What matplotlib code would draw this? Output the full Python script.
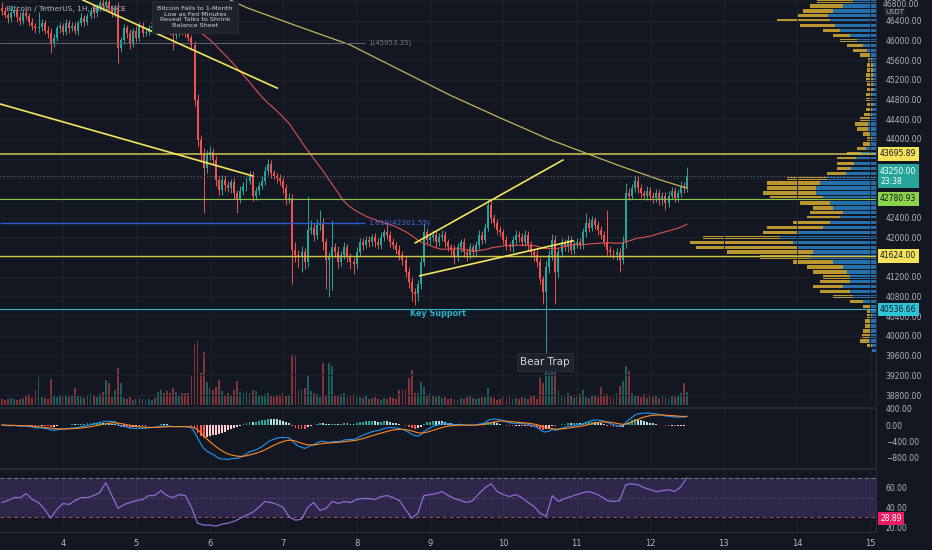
import matplotlib.pyplot as plt
import numpy as np
import pandas as pd

# BTC/USDT 1H candles (Binance). First candle: day 3 04:00, last: day 12 12:00
first_hour = 3 * 24 + 4
first_open = 46650
close = [
    46600, 46520, 46450, 46560, 46620, 46480, 46400, 46550, 46500, 46380, 46300, 46250,
    46280, 46350, 46200, 46150, 45950, 46050, 46250, 46300, 46180, 46350, 46250, 46300,
    46200, 46350, 46450, 46380, 46500, 46600, 46550, 46680, 46750, 46700, 46780, 46650,
    46550, 46650, 45850, 46000, 46250, 46150, 45950, 46200, 46050, 46300, 46150, 46180,
    46250, 46300, 46200, 46350, 46400, 46300, 46250, 46200, 46100, 46150, 46250, 46200,
    46150, 46050, 45900, 44790, 43980, 43670, 43410, 43670, 43730, 43570, 43170, 42960,
    43170, 43060, 43000, 43120, 42900, 42780, 42950, 43050, 43150, 43250, 42850, 42950,
    43050, 43150, 43350, 43500, 43300, 43250, 43200, 43150, 43000, 42780, 42800, 41750,
    41650, 41600, 41700, 41500, 42150, 42200, 42050, 42250, 42300, 41900, 41550, 41600,
    41800, 41700, 41500, 41650, 41800, 41600, 41500, 41450, 41700, 41900, 41850, 41950,
    41900, 42000, 41900, 41850, 42000, 42100, 42050, 41900, 41850, 41750, 41650, 41550,
    41300, 41100, 40900, 40850, 41050, 41500, 42100, 41950, 42000, 42050, 41900, 42000,
    42050, 41900, 41800, 41750, 41600, 41800, 41900, 41700, 41650, 41800, 41700, 41850,
    42050, 41950, 42200, 42650, 42400, 42300, 42150, 42100, 41950, 41850, 41800, 41950,
    42050, 42000, 41900, 42050, 41850, 41700, 41650, 41500, 41150, 40900, 41400, 41650,
    41950, 41300, 41700, 41900, 41800, 41950, 41750, 41850, 41900, 41850, 42100, 42300,
    42200, 42350, 42250, 42150, 42050, 41900, 41750, 41700, 41650, 41700, 41550, 41900,
    42900, 42850, 43000, 43150, 43000, 42900, 42850, 42950, 42850, 42800, 42900, 42750,
    42850, 42700, 42850, 42950, 42800, 42900, 43050, 43000, 43250,
]
# wick length above / below the candle body (USD)
wick_hi = [
    120, 80, 60, 150, 100, 70, 90, 60, 80, 50, 70, 60,
    300, 80, 60, 90, 100, 70, 60, 80, 50, 90, 60, 70,
    80, 60, 100, 70, 60, 80, 110, 60, 70, 90, 50, 80,
    70, 90, 120, 60, 80, 70, 90, 60, 100, 70, 80, 60,
    70, 60, 80, 90, 60, 70, 80, 60, 70, 90, 60, 80,
    70, 90, 60, 80, 120, 90, 150, 100, 120, 80, 90, 70,
    100, 80, 90, 70, 80, 60, 90, 80, 70, 100, 90, 80,
    70, 90, 100, 100, 80, 70, 60, 80, 70, 90, 110, 80,
    150, 90, 120, 80, 700, 150, 100, 120, 250, 90, 80, 100,
    550, 90, 120, 80, 100, 70, 90, 80, 100, 80, 90, 70,
    80, 70, 90, 80, 100, 80, 200, 70, 80, 60, 90, 70,
    80, 100, 90, 70, 80, 120, 200, 100, 80, 90, 70, 80,
    90, 80, 70, 60, 90, 80, 70, 80, 60, 90, 70, 80,
    90, 80, 100, 130, 120, 80, 70, 90, 80, 70, 60, 80,
    90, 70, 80, 90, 70, 80, 60, 90, 80, 70, 120, 100,
    120, 100, 90, 80, 70, 90, 80, 70, 90, 80, 100, 200,
    90, 80, 70, 90, 80, 70, 650, 80, 70, 90, 80, 120,
    200, 100, 80, 100, 90, 80, 70, 90, 80, 70, 90, 80,
    70, 80, 90, 80, 70, 90, 100, 80, 180,
]
wick_lo = [
    80, 60, 90, 70, 60, 100, 80, 70, 60, 90, 80, 100,
    90, 80, 70, 100, 200, 80, 60, 90, 70, 80, 90, 60,
    70, 90, 60, 80, 70, 60, 90, 70, 80, 60, 90, 70,
    80, 70, 310, 90, 80, 100, 120, 80, 90, 70, 80, 60,
    70, 80, 60, 90, 70, 80, 60, 90, 300, 80, 70, 90,
    80, 70, 90, 120, 150, 130, 910, 100, 90, 110, 120, 100,
    90, 110, 80, 100, 120, 280, 90, 80, 100, 70, 120, 90,
    80, 70, 90, 80, 100, 70, 90, 80, 100, 120, 90, 700,
    150, 200, 300, 150, 100, 90, 120, 80, 100, 150, 600, 760,
    670, 100, 120, 90, 80, 100, 150, 200, 90, 80, 100, 70,
    90, 80, 100, 90, 80, 70, 90, 100, 80, 90, 100, 120,
    100, 120, 200, 220, 150, 100, 90, 80, 100, 70, 90, 80,
    70, 90, 80, 100, 150, 80, 90, 100, 120, 80, 90, 70,
    80, 90, 70, 80, 100, 90, 80, 70, 90, 100, 80, 90,
    80, 90, 70, 80, 100, 90, 120, 100, 100, 250, 1280, 120,
    100, 650, 120, 90, 80, 100, 90, 80, 70, 90, 80, 100,
    90, 80, 70, 100, 90, 80, 100, 90, 80, 100, 250, 100,
    120, 90, 80, 70, 100, 90, 80, 100, 90, 110, 80, 100,
    90, 150, 80, 70, 90, 80, 70, 90, 80,
]
# volume, hundreds of BTC
volume = [
    6, 5, 6, 7, 6, 5, 6, 7, 10, 11, 7, 15,
    28, 8, 7, 6, 26, 9, 8, 9, 10, 9, 8, 9,
    17, 9, 8, 7, 10, 12, 9, 8, 11, 13, 25, 22,
    8, 15, 37, 22, 7, 6, 8, 5, 6, 7, 6, 5,
    6, 5, 7, 13, 15, 12, 14, 12, 17, 13, 10, 12,
    12, 12, 30, 60, 64, 32, 53, 23, 17, 15, 18, 25,
    14, 10, 12, 9, 15, 24, 13, 12, 14, 12, 15, 14,
    10, 9, 11, 12, 9, 8, 10, 9, 12, 9, 10, 50,
    50, 15, 16, 17, 30, 14, 12, 11, 8, 42, 10, 42,
    39, 10, 9, 11, 12, 8, 9, 11, 10, 8, 7, 9,
    6, 7, 8, 6, 5, 7, 6, 8, 7, 6, 15, 15,
    15, 27, 35, 12, 12, 23, 18, 10, 12, 9, 8, 10,
    7, 8, 6, 7, 6, 5, 7, 6, 8, 10, 7, 6,
    7, 8, 8, 17, 8, 7, 5, 6, 8, 7, 9, 6,
    7, 6, 8, 7, 6, 9, 10, 6, 27, 22, 38, 32,
    38, 38, 15, 10, 8, 12, 9, 7, 9, 11, 15, 8,
    7, 9, 10, 8, 18, 9, 11, 8, 7, 12, 19, 24,
    39, 34, 12, 10, 9, 8, 11, 7, 9, 8, 10, 7,
    9, 8, 7, 10, 8, 9, 12, 22, 13,
]

# RSI(14), every 2 hours from the first candle
rsi = [
    45, 47, 50, 50, 54, 48, 45, 38, 29, 38, 44, 43,
    47, 50, 50, 52, 55, 65, 52, 39, 43, 45, 47, 48,
    52, 52, 57, 52, 50, 53, 52, 40, 24, 22, 22, 21,
    23, 24, 26, 29, 32, 35, 40, 46, 45, 43, 40, 30,
    27, 28, 40, 45, 37, 39, 46, 44, 46, 45, 48, 49,
    49, 48, 51, 52, 50, 47, 38, 29, 34, 52, 53, 54,
    56, 52, 49, 47, 45, 47, 54, 60, 64, 56, 53, 51,
    53, 50, 45, 41, 34, 31, 52, 46, 49, 51, 53, 55,
    56, 54, 51, 47, 46, 47, 63, 64, 63, 60, 58, 56,
    57, 58, 56, 61, 70,
]
rsi_last_tag = 28.89

# 200 MA (time in days, price)
ma200_t = [6.28, 6.51, 7.23, 7.91, 8.59, 9.27, 9.95, 10.64, 11.00, 11.59, 12.13, 12.50]
ma200 = [46820, 46660, 46270, 45910, 45400, 44890, 44430, 43980, 43780, 43450, 43170, 43000]

# hand-drawn trend lines: (t0, p0, t1, p1)
trend_lines = [
    (4.27, 46820, 6.92, 45030),
    (3.14, 44710, 6.58, 43250),
    (8.80, 41890, 10.81, 43570),
    (8.86, 41220, 10.95, 41930),
]

level_fib1 = 45953.35
level_fib1618 = 42301.55
level_res = 43695.89
level_green = 42780.93
level_yellow = 41624.00
level_support = 40536.66
last_price = 43250.00

# visible range volume profile, 100 USD rows from 46800 down to 39700
vp_total = [
    59, 66, 73, 79, 99, 76, 53, 43, 36, 29, 23, 16,
    8, 9, 9, 10, 10, 9, 9, 10, 10, 9, 10, 12,
    16, 21, 19, 13, 9, 13, 19, 29, 39, 39, 39, 49,
    89, 109, 109, 113, 106, 76, 63, 66, 69, 83, 109, 113,
    173, 186, 180, 149, 116, 83, 69, 63, 53, 56, 63, 56,
    43, 26, 13, 9, 9, 11, 11, 13, 14, 16, 9, 4,
]
vp_up = [
    23, 33, 43, 48, 46, 41, 36, 26, 19, 13, 9, 6,
    4, 3, 3, 3, 3, 3, 3, 4, 4, 3, 4, 4,
    5, 8, 8, 6, 4, 6, 10, 15, 20, 22, 25, 30,
    49, 56, 60, 60, 53, 46, 43, 33, 36, 46, 53, 79,
    96, 83, 79, 63, 66, 43, 33, 29, 26, 26, 33, 26,
    23, 13, 6, 5, 4, 5, 5, 6, 6, 7, 4, 4,
]
vp_price = np.arange(46800, 39600, -100)

price_ticks = [46400, 46000, 45600, 45200, 44800, 44400, 44000,
               42400, 42000, 41200, 40800, 40400, 40000, 39600, 39200, 38800]
day_ticks = list(range(4, 16))

BG = '#131722'
GRID = '#1e222d'
TXT = '#b2b5be'
UP = '#26a69a'
DN = '#ef5350'

t = (first_hour + np.arange(len(close))) / 24
c = np.array(close, float)
o = np.r_[first_open, c[:-1]]
hi = np.maximum(o, c) + np.array(wick_hi)
lo = np.minimum(o, c) - np.array(wick_lo)
col = np.where(c >= o, UP, DN)

s = pd.Series(c)
sma50 = s.rolling(50).mean()
macd = s.ewm(span=12, adjust=False).mean() - s.ewm(span=26, adjust=False).mean()
signal = macd.ewm(span=9, adjust=False).mean()
hist = (macd - signal).values

W, H = 932, 550


def rect(top, bottom):
    return [0, 1 - bottom / H, 876 / W, (bottom - top) / H]


fig = plt.figure(figsize=(W / 100, H / 100), dpi=100, facecolor=BG)
ax_vp = fig.add_axes(rect(0, 405))
ax = fig.add_axes(rect(0, 405), sharey=ax_vp)
ax_v = fig.add_axes(rect(0, 405), sharex=ax)
ax_m = fig.add_axes(rect(408, 467), sharex=ax)
ax_r = fig.add_axes(rect(469, 532), sharex=ax)
ax_vp.set_zorder(1)
ax_v.set_zorder(2)
ax.set_zorder(3)
ax_vp.set_facecolor(BG)
ax.patch.set_visible(False)
ax_v.patch.set_visible(False)

X0, X1 = 3.1417, 15.0763
ax.set_xlim(X0, X1)
ax.set_ylim(38597, 46820)

for a in (ax, ax_m, ax_r, ax_v, ax_vp):
    for sp in a.spines.values():
        sp.set_visible(False)
for a in (ax, ax_m, ax_r):
    a.spines['right'].set_visible(True)
    a.spines['right'].set_color('#2a2e39')
    for d in day_ticks:
        a.axvline(d, color=GRID, lw=0.7, zorder=0)
for a in (ax_m, ax_r):
    a.set_facecolor(BG)
    a.spines['top'].set_visible(True)
    a.spines['top'].set_color('#2a2e39')
    a.spines['top'].set_linewidth(1.2)
ax_r.spines['bottom'].set_visible(True)
ax_r.spines['bottom'].set_color('#2a2e39')

for p in range(38800, 47000, 400):
    ax.axhline(p, color=GRID, lw=0.7, zorder=0)

# volume profile (right anchored)
ax_vp.set_xlim(876, 0)
ax_vp.barh(vp_price, vp_total, height=70, color='#bb952e', lw=0)
ax_vp.barh(vp_price, vp_up, height=70, color='#2470ad', lw=0)
ax_vp.tick_params(left=False, right=False, bottom=False, labelleft=False, labelbottom=False)

# volume
ax_v.bar(t, volume, width=0.6 / 24, color=col, alpha=0.5, lw=0)
ax_v.set_ylim(0, max(volume) * 6.3)
ax_v.axis('off')

# candles
body = np.maximum(np.abs(c - o), 12)
ax.vlines(t, lo, hi, colors=col, lw=0.7, zorder=4)
ax.bar(t, body, width=0.65 / 24, bottom=np.minimum(o, c), color=col, lw=0, zorder=5)

ax.plot(t, sma50, color='#d9534f', lw=0.8, zorder=6)
ax.plot(ma200_t, ma200, color='#bfb653', lw=0.9, zorder=6)

# levels
ax.hlines(level_fib1, X0, 8.114, color='#5d606b', lw=0.8, zorder=6)
ax.text(8.155, level_fib1, f'1({level_fib1:.2f})', color='#787b86', fontsize=5,
        va='center', zorder=6)
ax.hlines(level_fib1618, X0, 8.114, color='#2f5bd8', lw=1.0, zorder=6)
ax.text(8.155, level_fib1618, f'1.618({level_fib1618:.2f})', color='#4a6ee0', fontsize=5.3,
        va='center', zorder=6)
ax.axhline(level_res, color='#c2b94a', lw=1.2, zorder=6)
ax.axhline(last_price, color='#6a6d78', lw=0.8, ls=(0, (1, 2)), zorder=6)
ax.axhline(level_green, color='#8bc34a', lw=0.8, zorder=6)
ax.axhline(level_yellow, color='#d0c445', lw=1.0, zorder=6)
ax.axhline(level_support, color='#3fb6c8', lw=0.8, zorder=6)

for t0, p0, t1, p1 in trend_lines:
    ax.plot([t0, t1], [p0, p1], color='#f2e55c', lw=1.2, zorder=7)

ax.text(9.109, 40446, 'Key Support', color='#2ab0c5', fontsize=5.8, fontweight='bold',
        ha='center', va='center', zorder=8)
ax.text(10.567, 39471, 'Bear Trap', color='#d1d4dc', fontsize=7.5, ha='center', va='center',
        zorder=8, bbox=dict(boxstyle='square,pad=0.35', fc='#1e222d', ec='#2a2e39', lw=0.6))
ax.text(5.798, 46475, 'Bitcoin Falls to 1-Month\nLow as Fed Minutes\nReveal Talks to Shrink\nBalance Sheet',
        color='#d1d4dc', fontsize=4.6, linespacing=1.1, ha='center', va='center', zorder=9,
        bbox=dict(boxstyle='square,pad=0.8', fc='#1e222d', ec='#2a2e39', lw=0.6))
ax.text(0.007, 0.985, 'Bitcoin / TetherUS, 1H, BINANCE', transform=ax.transAxes, color=TXT,
        fontsize=5.4, va='top', zorder=2)

# price axis
ax.yaxis.tick_right()
ax.set_yticks(price_ticks)
ax.set_yticklabels([f'{p:.2f}' for p in price_ticks])
ax.tick_params(axis='y', length=0, pad=7, labelsize=5.5, labelcolor=TXT)
ax.tick_params(axis='x', bottom=False, labelbottom=False)
ax.text(1.008, 1.0, '46800.00', transform=ax.transAxes, color=TXT, fontsize=5.5,
        va='top', clip_on=False)
ax.text(1.0103, 46575, 'USDT', transform=ax.get_yaxis_transform(), color=TXT, fontsize=5,
        va='center', clip_on=False, bbox=dict(boxstyle='square,pad=0.2', fc='#1e222d', ec='none'))


def price_tag(a, y, txt, fc, tc):
    a.text(1.0046, y, txt, transform=a.get_yaxis_transform(), ha='left', va='center',
           fontsize=5.5, color=tc, clip_on=False, zorder=10, linespacing=1.2,
           bbox=dict(boxstyle='square,pad=0.3', fc=fc, ec='none'))


price_tag(ax, level_res, f'{level_res:.2f}', '#f5e15a', BG)
price_tag(ax, 43237, f'{last_price:.2f}\n23:38', '#26a69a', 'white')
price_tag(ax, level_green, f'{level_green:.2f}', '#8bd34a', BG)
price_tag(ax, level_yellow, f'{level_yellow:.2f}', '#f5e15a', BG)
price_tag(ax, level_support, f'{level_support:.2f}', '#2ec4d8', BG)

# MACD
hist_prev = np.r_[0, hist[:-1]]
hcol = np.where(hist >= 0, np.where(hist > hist_prev, '#26a69a', '#b2dfdb'),
                np.where(hist < hist_prev, '#ff5252', '#ffcdd2'))
ax_m.bar(t, hist, width=0.6 / 24, color=hcol, lw=0, zorder=3)
ax_m.plot(t, macd, color='#2196f3', lw=0.8, zorder=4)
ax_m.plot(t, signal, color='#ff8a1f', lw=0.8, zorder=4)
ax_m.set_ylim(-1024, 415)
m_ticks = [400, 0, -400, -800]
ax_m.yaxis.tick_right()
ax_m.set_yticks(m_ticks)
ax_m.set_yticklabels([f'{v:.2f}'.replace('-', '\u2212') for v in m_ticks])
ax_m.tick_params(axis='y', length=0, pad=7, labelsize=5.5, labelcolor=TXT)
ax_m.tick_params(axis='x', bottom=False, labelbottom=False)

# RSI
ax_r.axhspan(30, 70, color='#7e57c2', alpha=0.25, lw=0, zorder=1)
ax_r.axhline(70, color='#787b86', lw=0.7, ls=(0, (4, 3)), zorder=2)
ax_r.axhline(50, color='#787b86', lw=0.5, ls=(0, (4, 3)), alpha=0.5, zorder=2)
ax_r.axhline(30, color='#a0506a', lw=0.7, ls=(0, (4, 3)), zorder=2)
ax_r.plot(t[::2], rsi, color='#8e6bd0', lw=0.9, zorder=4)
ax_r.set_ylim(15, 79)
r_ticks = [60, 40, 20]
ax_r.yaxis.tick_right()
ax_r.set_yticks(r_ticks)
ax_r.set_yticklabels([f'{v:.2f}' for v in r_ticks])
ax_r.tick_params(axis='y', length=0, pad=7, labelsize=5.5, labelcolor=TXT)
price_tag(ax_r, rsi_last_tag, f'{rsi_last_tag:.2f}', '#e91e63', 'white')

ax_r.set_xticks(day_ticks)
ax_r.set_xticklabels([str(d) for d in day_ticks])
ax_r.tick_params(axis='x', length=0, pad=5, labelsize=6, labelcolor=TXT)

fig.savefig('out.png', dpi=100, facecolor=BG)
